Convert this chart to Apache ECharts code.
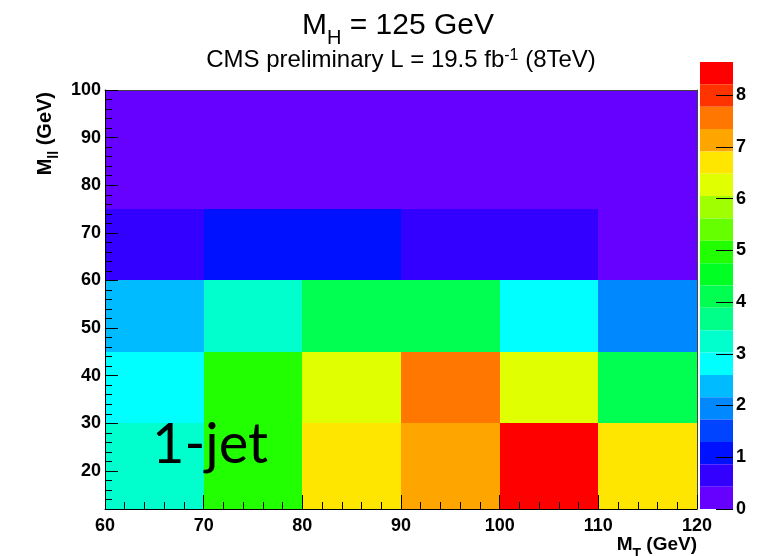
<!DOCTYPE html>
<html>
<head>
<meta charset="utf-8">
<title>M_H = 125 GeV, 1-jet</title>
<script src="https://cdn.jsdelivr.net/npm/echarts@6/dist/echarts.min.js"></script>
<style>
html, body { margin: 0; padding: 0; background: #fff; }
#main { width: 766px; height: 556px; }
</style>
</head>
<body>
<div id="main"></div>
<script>
// bin edges
var mtEdges = [60, 70, 80, 90, 100, 110, 120];
var mllEdges = [12, 30, 45, 60, 75, 100];

// cell contents, one row per mll bin (bottom to top), columns follow mtEdges
var row12to30 = [3.2, 4.9, 6.7, 7.1, 8.6, 6.6];
var row30to45 = [2.8, 5.0, 6.3, 7.5, 6.2, 4.1];
var row45to60 = [2.4, 3.2, 4.1, 4.0, 2.8, 1.9];
var row60to75 = [0.7, 1.1, 1.0, 0.75, 0.65, 0.3];
var row75to100 = [0.2, 0.15, 0.1, 0.1, 0.1, 0.05];
var rows = [row12to30, row30to45, row45to60, row60to75, row75to100];

// tick labels
var mtTicks = [60, 70, 80, 90, 100, 110, 120];
var mllTicks = [20, 30, 40, 50, 60, 70, 80, 90, 100];
var zTicks = [0, 1, 2, 3, 4, 5, 6, 7, 8];

// colour palette (20 contour levels, low to high)
var zMax = 8.64;
var palette = ['#6600ff', '#3300ff', '#0011ff', '#0044ff', '#0088ff',
               '#00bbff', '#00ffff', '#00ffcc', '#00ff88', '#00ff50',
               '#00ff22', '#22ff00', '#66ff00', '#a0ff00', '#e0ff00',
               '#ffe600', '#ffa500', '#ff7700', '#ff3300', '#ff0000'];

var chart = echarts.init(document.getElementById('main'));

var cells = [];
for (var j = 0; j < rows.length; j++) {
    for (var i = 0; i < rows[j].length; i++) {
        cells.push([mtEdges[i], mtEdges[i + 1], mllEdges[j], mllEdges[j + 1], rows[j][i]]);
    }
}

var step = zMax / palette.length;
var pieces = [];
for (var k = 0; k < palette.length; k++) {
    pieces.push({ min: k * step, max: (k + 1) * step, color: palette[k] });
}

// minor ticks every 2 GeV on the y axis
var mllMinor = [];
for (var v = 14; v < 100; v += 2) {
    if (v % 10 != 0) mllMinor.push(v);
}

function renderCell(params, api) {
    var p0 = api.coord([api.value(0), api.value(3)]);
    var p1 = api.coord([api.value(1), api.value(2)]);
    var x0 = Math.round(p0[0]), y0 = Math.round(p0[1]);
    var x1 = Math.round(p1[0]), y1 = Math.round(p1[1]);
    return {
        type: 'rect',
        shape: { x: x0, y: y0, width: x1 - x0, height: y1 - y0 },
        style: { fill: api.visual('color') }
    };
}

var font = 'Liberation Sans, Arial, sans-serif';
var lbl = { color: '#000', fontFamily: font, fontWeight: 'bold', fontSize: 18 };

option = {
    animation: false,
    grid: [
        { left: 105, right: 69, top: 90, bottom: 47 },
        { left: 700, width: 33, top: 62, height: 447 }   // colour scale
    ],
    xAxis: [{
        type: 'value', gridIndex: 0, position: 'bottom',
        min: 60, max: 120, interval: 10, z: 5,
        axisLine: { lineStyle: { color: '#000', width: 1 } },
        axisTick: { inside: true, length: 14, lineStyle: { color: '#000' } },
        minorTick: { show: true, splitNumber: 5, length: 7, lineStyle: { color: '#000' } },
        axisLabel: Object.assign({ margin: 8, customValues: mtTicks }, lbl),
        splitLine: { show: false }
    }, {
        type: 'value', gridIndex: 0, position: 'top', min: 60, max: 120, z: 5,
        axisLine: { lineStyle: { color: '#444', width: 1 } },
        axisTick: { show: false }, axisLabel: { show: false }, splitLine: { show: false }
    }, {
        type: 'value', gridIndex: 1, min: 1, max: 2, show: false
    }],
    yAxis: [{
        type: 'value', gridIndex: 0, position: 'left',
        min: 12, max: 100, z: 5,
        axisLine: { onZero: false, lineStyle: { color: '#000', width: 1 } },
        axisTick: { inside: true, length: 13, customValues: mllTicks, lineStyle: { color: '#000' } },
        axisLabel: Object.assign({ margin: 4, customValues: mllTicks }, lbl),
        splitLine: { show: false }
    }, {
        type: 'value', gridIndex: 0, position: 'left',
        min: 12, max: 100, z: 5,
        axisLine: { show: false, onZero: false },
        axisTick: { inside: true, length: 7, customValues: mllMinor, lineStyle: { color: '#000' } },
        axisLabel: { show: false }, splitLine: { show: false }
    }, {
        type: 'value', gridIndex: 0, position: 'right', min: 12, max: 100, z: 5,
        axisLine: { onZero: false, lineStyle: { color: '#444', width: 1 } },
        axisTick: { show: false }, axisLabel: { show: false }, splitLine: { show: false }
    }, {
        type: 'value', gridIndex: 1, position: 'right',
        min: 0, max: zMax, z: 10,
        axisLine: { show: false, onZero: false },
        axisTick: { inside: true, length: 17, customValues: zTicks, lineStyle: { color: '#000' } },
        axisLabel: Object.assign({ margin: 3, customValues: zTicks }, lbl),
        splitLine: { show: false }
    }],
    visualMap: {
        type: 'piecewise',
        seriesIndex: 0,
        dimension: 4,
        pieces: pieces,
        orient: 'vertical',
        left: 700,
        top: 62,
        padding: 0,
        itemWidth: 33,
        itemHeight: 447 / 20,
        itemGap: 0,
        itemSymbol: 'rect',
        showLabel: false,
        selectedMode: false,
        hoverLink: false
    },
    graphic: [{
        type: 'text', x: 398, y: 28,
        style: {
            text: '{m|M}{s|H}{m| = 125 GeV}',
            align: 'center', verticalAlign: 'middle',
            rich: {
                m: { fontFamily: font, fontSize: 30, lineHeight: 34, verticalAlign: 'top', fill: '#000' },
                s: { fontFamily: font, fontSize: 20, lineHeight: 20, padding: [17, 0, 0, 0], verticalAlign: 'top', fill: '#000' }
            }
        }
    }, {
        type: 'text', x: 401, y: 62,
        style: {
            text: '{m|CMS preliminary L = 19.5 fb}{s|-1}{m| (8TeV)}',
            align: 'center', verticalAlign: 'middle',
            rich: {
                m: { fontFamily: font, fontSize: 24, lineHeight: 28, verticalAlign: 'top', fill: '#000' },
                s: { fontFamily: font, fontSize: 16, lineHeight: 16, padding: [0, 0, 0, 0], verticalAlign: 'top', fill: '#000' }
            }
        }
    }, {
        type: 'text', x: 697, y: 546,
        style: {
            text: '{m|M}{s|T}{m| (GeV)}',
            align: 'right', verticalAlign: 'middle',
            rich: {
                m: { fontFamily: font, fontSize: 19, fontWeight: 'bold', lineHeight: 22, verticalAlign: 'top', fill: '#000' },
                s: { fontFamily: font, fontSize: 14, fontWeight: 'bold', lineHeight: 14, padding: [12, 0, 0, 0], verticalAlign: 'top', fill: '#000' }
            }
        }
    }, {
        type: 'text', x: 46, y: 92, rotation: Math.PI / 2,
        style: {
            text: '{m|M}{s|ll}{m| (GeV)}',
            align: 'right', verticalAlign: 'middle',
            rich: {
                m: { fontFamily: font, fontSize: 20, fontWeight: 'bold', lineHeight: 22, verticalAlign: 'top', fill: '#000' },
                s: { fontFamily: font, fontSize: 14, fontWeight: 'bold', lineHeight: 14, padding: [12, 0, 0, 0], verticalAlign: 'top', fill: '#000' }
            }
        }
    }, {
        type: 'text', x: 152, y: 445, z: 100,
        style: {
            text: '1-jet',
            fontFamily: 'Lato, Open Sans, sans-serif',
            fontSize: 56,
            fill: '#000',
            align: 'left', verticalAlign: 'middle'
        }
    }],
    series: [{
        type: 'custom',
        xAxisIndex: 0,
        yAxisIndex: 0,
        renderItem: renderCell,
        encode: { x: [0, 1], y: [2, 3] },
        data: cells
    }]
};
chart.setOption(option);
</script>
</body>
</html>
